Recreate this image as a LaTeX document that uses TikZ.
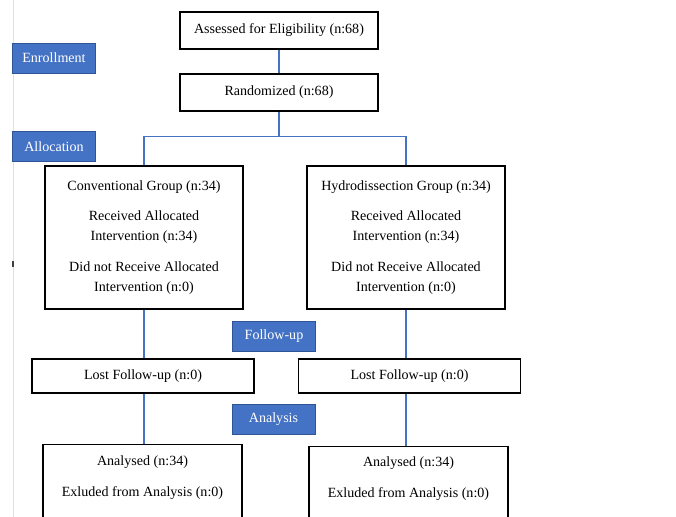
\documentclass[tikz,border=0pt]{standalone}
\usepackage{fontspec}
\setmainfont{Liberation Serif}
\definecolor{stageblue}{HTML}{4472C4}
\definecolor{stageedge}{HTML}{2F5597}

\tikzset{
  box/.style={draw=black,line width=1.1pt,rectangle,align=center,inner sep=0pt},
  stage/.style={fill=stageblue,draw=stageedge,line width=0.4pt,text=white,
    minimum width=83*0.03cm,minimum height=30*0.03cm,inner sep=0pt},
  link/.style={draw=stageblue,line width=1.2pt}
}

\begin{document}
\begin{tikzpicture}[x=0.03cm,y=-0.03cm,font=\fontsize{12pt}{17pt}\selectfont]

  \useasboundingbox (0,0) rectangle (676,517);
  \clip (0,0) rectangle (676,517);

  % Page edge
  \draw[black!12,line width=0.8pt] (13,0) -- (13,517);
  \draw[black!75,line width=1pt] (13,261) -- (13,267);

  % Top boxes
  \node[box,minimum width=198*0.03cm,minimum height=37*0.03cm] (assess) at (279,30.5) {Assessed for Eligibility (n:68)};
  \node[box,minimum width=198*0.03cm,minimum height=37*0.03cm] (rand) at (279,92.5) {Randomized (n:68)};

  % Group boxes
  \node[box,minimum width=198*0.03cm,minimum height=143*0.03cm] (conv) at (144,237.5)
    {Conventional Group (n:34)\\[9pt]Received Allocated\\Intervention (n:34)\\[9pt]Did not Receive Allocated\\Intervention (n:0)};
  \node[box,minimum width=198*0.03cm,minimum height=143*0.03cm] (hydro) at (406,237.5)
    {Hydrodissection Group (n:34)\\[9pt]Received Allocated\\Intervention (n:34)\\[9pt]Did not Receive Allocated\\Intervention (n:0)};

  % Follow-up boxes
  \node[box,minimum width=222*0.03cm,minimum height=34*0.03cm] (lostl) at (143,376) {Lost Follow-up (n:0)};
  \node[box,minimum width=222*0.03cm,minimum height=34*0.03cm] (lostr) at (409.5,376) {Lost Follow-up (n:0)};

  % Analysis boxes
  \node[box,anchor=north,minimum width=199*0.03cm,minimum height=120*0.03cm] (anall) at (142.5,444) {};
  \node[box,anchor=north,minimum width=199*0.03cm,minimum height=120*0.03cm] (analr) at (408.5,446) {};
  \node[align=center] (analltxt) at (142.5,477.5) {Analysed (n:34)\\[9pt]Exluded from Analysis (n:0)};
  \node[align=center] (analrtxt) at (408.5,478.5) {Analysed (n:34)\\[9pt]Exluded from Analysis (n:0)};

  % Stage labels
  \node[stage] (enroll) at (54,58) {Enrollment};
  \node[stage] (alloc) at (54,146.5) {Allocation};
  \node[stage] (follow) at (274,336.5) {Follow-up};
  \node[stage] (analysis) at (273.5,419) {Analysis};

  % Connectors
  \draw[link] (assess.south) -- (rand.north);
  \draw[link] (rand.south) -- ++(0,25) -| (conv.north);
  \draw[link] (rand.south) -- ++(0,25) -| (hydro.north);
  \draw[link] (conv.south) -- (conv.south |- lostl.north);
  \draw[link] (hydro.south) -- (hydro.south |- lostr.north);
  \draw[link] (conv.south |- lostl.south) -- (conv.south |- anall.north);
  \draw[link] (hydro.south |- lostr.south) -- (hydro.south |- analr.north);

\end{tikzpicture}
\end{document}
